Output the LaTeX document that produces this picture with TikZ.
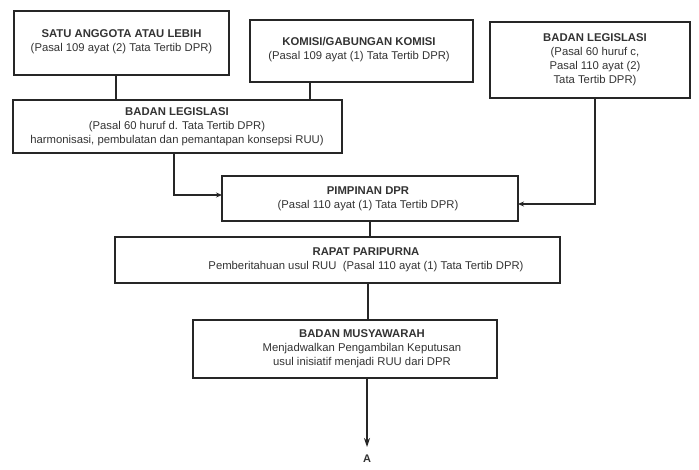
\documentclass[tikz,border=0pt]{standalone}
\usepackage{fontspec}
\setmainfont{Liberation Sans}
\usetikzlibrary{arrows.meta}
\begin{document}
\begin{tikzpicture}[x=1pt,y=-1pt,
  box/.style={draw=black!85,line width=1.4pt},
  txt/.style={align=center,inner sep=0pt,font=\fontsize{11.3}{14}\selectfont,text=black!80},
  conn/.style={draw=black!85,line width=1.2pt},
  arr/.style={conn,-{Stealth[length=6pt,width=5pt]}}]
\useasboundingbox (0,0) rectangle (699,470);
% boxes
\draw[box] (14,11) rectangle (229,75);
\node[txt] (b1) at (121.5,42) {\textbf{SATU ANGGOTA ATAU LEBIH}\\(Pasal 109 ayat (2) Tata Tertib DPR)};
\draw[box] (250,20) rectangle (473,82);
\node[txt] (b2) at (359,50) {\textbf{KOMISI/GABUNGAN KOMISI}\\(Pasal 109 ayat (1) Tata Tertib DPR)};
\draw[box] (490,22) rectangle (690,98);
\node[txt] (b3) at (595,60) {\textbf{BADAN LEGISLASI}\\(Pasal 60 huruf c,\\Pasal 110 ayat (2)\\Tata Tertib DPR)};
\draw[box] (13,100) rectangle (342,153);
\node[txt] (b4) at (177,126.5) {\textbf{BADAN LEGISLASI}\\(Pasal 60 huruf d. Tata Tertib DPR)\\harmonisasi, pembulatan dan pemantapan konsepsi RUU)};
\draw[box] (222,176) rectangle (518,221);
\node[txt] (b5) at (368,198.5) {\textbf{PIMPINAN DPR}\\(Pasal 110 ayat (1) Tata Tertib DPR)};
\draw[box] (115,237) rectangle (560,283);
\node[txt] (b6) at (366,260) {\textbf{RAPAT PARIPURNA}\\Pemberitahuan usul RUU\ \ (Pasal 110 ayat (1) Tata Tertib DPR)};
\draw[box] (193,320) rectangle (497,378);
\node[txt] (b7) at (362,349) {\textbf{BADAN MUSYAWARAH}\\Menjadwalkan Pengambilan Keputusan\\usul inisiatif menjadi RUU dari DPR};
% named coordinates
\coordinate (c1a) at (116,75); \coordinate (c1b) at (116,100);
\coordinate (c2a) at (310,82); \coordinate (c2b) at (310,100);
\coordinate (c4a) at (174,153); \coordinate (c4b) at (174,195); \coordinate (c5l) at (222,195);
\coordinate (c3a) at (595,98); \coordinate (c3b) at (595,204); \coordinate (c5r) at (518,204);
\coordinate (c5a) at (370,221); \coordinate (c6t) at (370,237);
\coordinate (c6a) at (368,283); \coordinate (c7t) at (368,320);
\coordinate (c7a) at (367,378); \coordinate (cA) at (367,447);
\draw[conn] (c1a) -- (c1b);
\draw[conn] (c2a) -- (c2b);
\draw[arr] (c4a) -- (c4b) -- (c5l);
\draw[arr] (c3a) -- (c3b) -- (c5r);
\draw[conn] (c5a) -- (c6t);
\draw[conn] (c6a) -- (c7t);
\draw[arr,-{Stealth[length=9pt,width=6pt]}] (c7a) -- (cA);
\node[font=\bfseries\fontsize{11}{12}\selectfont,text=black!80] (A) at (367,459) {A};
\end{tikzpicture}
\end{document}
